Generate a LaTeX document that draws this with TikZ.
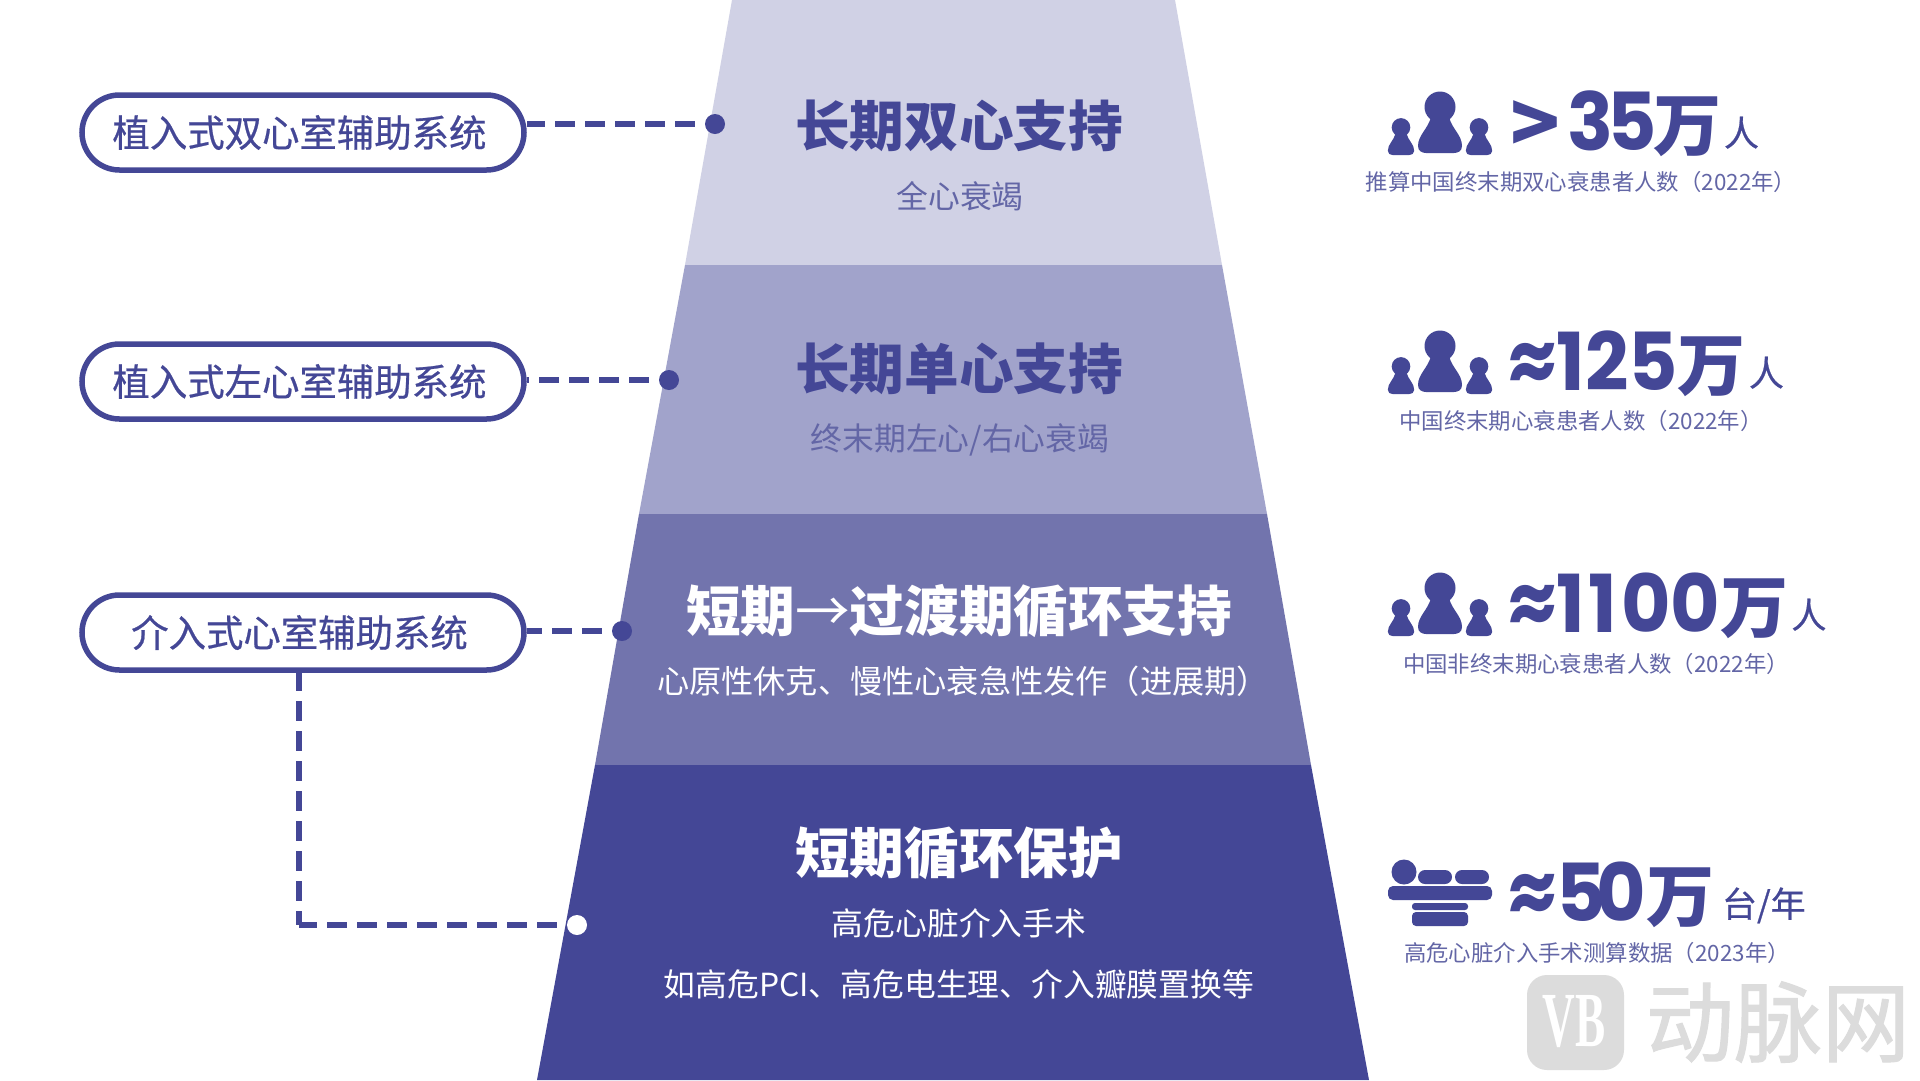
\documentclass[tikz,border=0pt]{standalone}
\usepackage{fontspec}
\setmainfont{Noto Sans CJK SC}
\newfontfamily\numfont{Poppins}
\newfontfamily\pillfont[FakeBold=0.6]{Noto Sans CJK SC}
\newfontfamily\markfont[FakeBold=1.2]{Noto Sans CJK SC}
\newfontfamily\logofont{Liberation Serif}
\usetikzlibrary{shapes.misc}
\definecolor{deep}{HTML}{444796}
\definecolor{midb}{HTML}{7274AD}
\definecolor{midc}{HTML}{A1A3CB}
\definecolor{pale}{HTML}{D0D1E5}
\definecolor{subtxt}{HTML}{6366A6}
\definecolor{wmgray}{HTML}{DCDCDC}
\newcommand{\bignum}[1]{\scalebox{0.95}[1]{\bfseries\numfont\fontsize{80}{80}\selectfont #1}{\bfseries\fontsize{68}{68}\selectfont 万}}
\newcommand{\unitsize}[1]{\raisebox{4pt}{\pillfont\fontsize{35}{35}\selectfont #1}}
\tikzset{
  pill/.style={draw=deep, line width=5.5pt, fill=white, rounded rectangle, minimum width=442pt, minimum height=75pt, inner sep=0pt, text=deep, font=\pillfont\fontsize{37.4}{37.4}\selectfont},
  title/.style={font=\bfseries\fontsize{54.6}{54.6}\selectfont, inner sep=0pt},
  sub/.style={font=\fontsize{31.8}{31.8}\selectfont, inner sep=0pt},
  stat/.style={anchor=base west, text=deep, inner sep=0pt, text depth=0pt},
  note/.style={font=\fontsize{22.4}{22.4}\selectfont, text=subtxt, inner sep=0pt},
  dot/.style={circle, fill=deep, minimum size=20pt, inner sep=0pt},
  dashline/.style={draw=deep, line width=5.5pt, dash pattern=on 20pt off 10pt, dash phase=20pt},
  person/.pic={
    \fill[deep] (0*\x,-46*\y) circle (15.5pt);
    \fill[deep] (-22*\x,-7*\y) .. controls (-22*\x,-18*\y) and (-12*\x,-24*\y) .. (-9*\x,-36*\y)
      -- (9*\x,-36*\y) .. controls (12*\x,-24*\y) and (22*\x,-18*\y) .. (22*\x,-7*\y)
      .. controls (22*\x,-2*\y) and (18*\x,0*\y) .. (14*\x,0*\y)
      -- (-14*\x,0*\y) .. controls (-18*\x,0*\y) and (-22*\x,-2*\y) .. (-22*\x,-7*\y) -- cycle;
  },
  crowd/.pic={
    \pic at (0*\x,0*\y) {person};
    \pic[scale=0.6] at (-39*\x,2*\y) {person};
    \pic[scale=0.6] at (39*\x,2*\y) {person};
  }
}
\begin{document}
\begin{tikzpicture}
        \def\x{1pt}
        \def\y{-1pt}
        \useasboundingbox (0*\x,0*\y) rectangle (1920*\x,1080*\y);
        \fill[white] (0*\x,0*\y) rectangle (1920*\x,1080*\y);
        % pyramid
        \fill[pale] (732*\x,0*\y) -- (1175*\x,0*\y) -- (1222*\x,265*\y) -- (685*\x,265*\y) -- cycle;
        \fill[midc] (685*\x,265*\y) -- (1222*\x,265*\y) -- (1267*\x,514*\y) -- (639*\x,514*\y) -- cycle;
        \fill[midb] (639*\x,514*\y) -- (1267*\x,514*\y) -- (1311*\x,765*\y) -- (595*\x,765*\y) -- cycle;
        \fill[deep] (595*\x,765*\y) -- (1311*\x,765*\y) -- (1369*\x,1080*\y) -- (537*\x,1080*\y) -- cycle;
        % titles
        \node[title, text=deep] (T1) at (959*\x,126*\y) {长期双心支持};
        \node[sub, text=subtxt] (S1) at (960*\x,196*\y) {全心衰竭};
        \node[title, text=deep] (T2) at (959*\x,369*\y) {长期单心支持};
        \node[sub, text=subtxt] (S2) at (960*\x,440*\y) {终末期左心/右心衰竭};
        \node[title, text=white] (T3) at (959*\x,611*\y) {短期{\mdseries →}过渡期循环支持};
        \node[sub, text=white, font=\fontsize{32.2}{32.2}\selectfont] (S3) at (963*\x,681*\y) {心原性休克、慢性心衰急性发作（进展期）};
        \node[title, text=white] (T4) at (959*\x,853*\y) {短期循环保护};
        \node[sub, text=white] (S4) at (959*\x,923*\y) {高危心脏介入手术};
        \node[sub, text=white] (S5) at (959*\x,984*\y) {如高危PCI、高危电生理、介入瓣膜置换等};
        % left side
        \node[pill] (P1) at (303*\x,132.5*\y) {植入式双心室辅助系统\kern7pt};
        \node[pill] (P2) at (303*\x,381.5*\y) {植入式左心室辅助系统\kern7pt};
        \node[pill] (P3) at (303*\x,632.5*\y) {介入式心室辅助系统\kern7pt};
        \node[dot] (D1) at (715*\x,124*\y) {};
        \node[dot] (D2) at (669*\x,380*\y) {};
        \node[dot] (D3) at (622*\x,631*\y) {};
        \node[dot, fill=white] (D4) at (577*\x,925*\y) {};
        \coordinate (V3) at (299*\x,671*\y);
        \coordinate (V4) at (299*\x,925*\y);
        \path (D1) edge [dashline] (P1.east |- D1);
        \path (D2) edge [dashline] (P2.east |- D2);
        \path (D3) edge [dashline] (P3.east |- D3);
        \path (V3) edge [dashline, dash phase=0pt] (V4);
        \path (D4) edge [dashline] (V4);
        % right side
        \pic at (1440*\x,153*\y) {crowd};
        \pic at (1440*\x,392*\y) {crowd};
        \pic at (1440*\x,634*\y) {crowd};
        \node[stat] (N1) at (1510*\x,150*\y) {\raisebox{-3pt}{\bfseries\fontsize{82}{82}\selectfont >}\hspace{7pt}\bignum{3\kern-6pt 5\kern-3pt}\hspace{2pt}\unitsize{人}};
        \node[stat] (N2) at (1508*\x,390*\y) {\bignum{≈125}\hspace{3pt}\unitsize{人}};
        \node[stat] (N3) at (1508*\x,632*\y) {\bignum{≈1\kern4pt 1\kern4pt 00}\hspace{3pt}\unitsize{人}};
        \node[stat] (N4) at (1508*\x,921*\y) {\bignum{≈5\kern-10pt 0}\hspace{8pt}\unitsize{台/年}};
        \node[note] (C1) at (1581*\x,182*\y) {推算中国终末期双心衰患者人数（2022年）};
        \node[note] (C2) at (1581*\x,421*\y) {中国终末期心衰患者人数（2022年）};
        \node[note] (C3) at (1596*\x,664*\y) {中国非终末期心衰患者人数（2022年）};
        \node[note] (C4) at (1597*\x,953*\y) {高危心脏介入手术测算数据（2023年）};
        % device icon
        \fill[deep] (1404*\x,872*\y) circle (12.5pt);
        \fill[deep, rounded corners=7pt] (1418*\x,870*\y) rectangle (1452*\x,884*\y);
        \fill[deep, rounded corners=7pt] (1455*\x,870*\y) rectangle (1489*\x,884*\y);
        \fill[deep, rounded corners=5pt] (1388*\x,886*\y) rectangle (1492*\x,900*\y);
        \fill[deep, rounded corners=3pt] (1412*\x,903*\y) rectangle (1468*\x,910*\y);
        \fill[deep, rounded corners=4pt] (1412*\x,912*\y) rectangle (1468*\x,926*\y);
        % watermark
        \fill[wmgray, rounded corners=20pt] (1527*\x,975*\y) rectangle (1624*\x,1070*\y);
        \node[text=white, inner sep=0pt, font=\logofont\bfseries\fontsize{78}{78}\selectfont] (L1) at (1574*\x,1022*\y) {\scalebox{0.58}[1]{VB}};
        \node[text=wmgray, inner sep=0pt, font=\markfont\fontsize{88}{88}\selectfont] (L2) at (1778*\x,1022*\y) {动脉网};
      \end{tikzpicture}
\end{document}
